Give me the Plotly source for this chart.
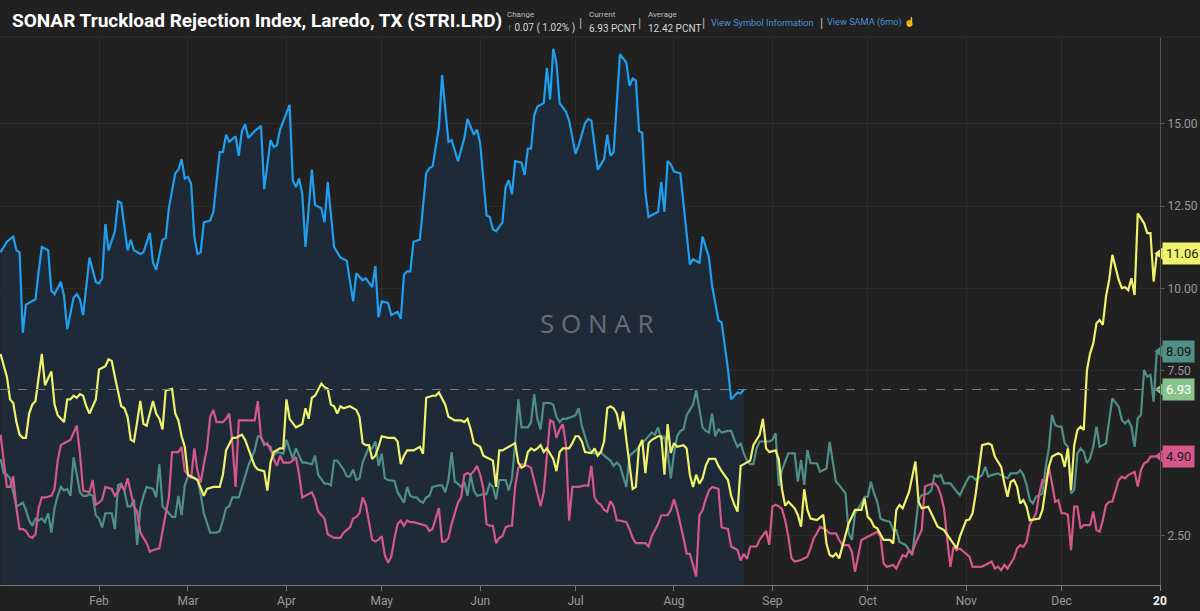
import pandas as pd
import plotly.graph_objects as go

# ---- datos (dia del año desde 1 ene, valor %) ----
blue_days = [0, 2, 4, 5, 6, 7, 8, 9, 11, 12, 13, 15, 16, 17, 19, 20, 21, 22, 23, 24, 25, 26, 28, 30, 31, 32, 33, 34,
             36, 37, 38, 40, 41, 42, 44, 45, 47, 48, 49, 51, 52, 53, 55, 56, 57, 58, 59, 60, 61, 62, 63, 64, 66, 67,
             69, 70, 71, 72, 74, 75, 76, 77, 78, 80, 82, 83, 85, 86, 87, 88, 91, 92, 93, 94, 95, 96, 98, 99, 101,
             102, 103, 105, 107, 109, 111, 112, 114, 115, 117, 118, 119, 120, 122, 123, 125, 126, 127, 128, 129,
             130, 132, 134, 135, 136, 138, 139, 141, 142, 144, 146, 147, 149, 150, 151, 153, 154, 155, 156, 158,
             159, 160, 161, 162, 164, 165, 166, 167, 168, 169, 171, 172, 173, 174, 175, 176, 178, 179, 181, 182,
             184, 185, 186, 187, 188, 190, 191, 192, 193, 194, 195, 197, 198, 199, 200, 201, 202, 203, 204, 207,
             208, 209, 210, 211, 212, 214, 215, 217, 218, 220, 221, 223, 224, 226, 227, 229, 230, 232, 233, 234]
blue_vals = [11.10, 11.42, 11.58, 11.16, 11.10, 8.65, 9.51, 9.56, 9.67, 10.52, 11.26, 11.16, 9.93, 9.83, 10.20,
             9.77, 8.76, 9.24, 9.72, 9.83, 9.67, 9.19, 10.94, 10.20, 10.15, 10.31, 11.96, 11.16, 11.74, 12.65,
             12.60, 11.16, 11.48, 11.16, 11.05, 11.10, 11.69, 10.78, 10.57, 11.48, 11.53, 12.44, 13.50, 13.61,
             13.93, 13.34, 13.39, 13.18, 11.58, 11.05, 11.10, 12.01, 12.06, 12.33, 14.14, 14.14, 14.67, 14.46,
             14.62, 14.03, 14.78, 14.99, 14.57, 14.78, 14.94, 13.02, 14.51, 14.30, 14.35, 14.83, 15.58, 13.29,
             13.08, 13.34, 12.86, 11.26, 13.61, 12.54, 12.44, 12.01, 13.24, 11.26, 10.94, 10.84, 9.61, 10.46,
             10.25, 10.31, 10.04, 10.68, 9.13, 9.61, 9.56, 9.19, 9.29, 9.08, 10.41, 10.52, 10.52, 11.42, 11.48,
             13.50, 13.66, 13.71, 14.89, 16.48, 14.46, 14.51, 13.87, 14.57, 15.15, 14.67, 14.83, 14.41, 12.22,
             12.17, 11.80, 11.74, 12.01, 13.08, 13.29, 12.86, 13.87, 13.82, 13.45, 14.25, 14.25, 15.26, 15.53,
             15.63, 16.70, 15.74, 17.28, 16.86, 15.63, 15.37, 15.10, 14.09, 14.35, 15.02, 15.15, 15.10, 14.35,
             13.61, 13.93, 14.67, 14.03, 14.14, 15.63, 17.12, 16.86, 16.16, 16.38, 16.32, 14.78, 14.73, 12.92,
             12.17, 12.33, 13.24, 12.33, 13.87, 13.77, 13.55, 13.50, 12.54, 10.73, 10.89, 10.78, 11.58, 10.94,
             10.09, 9.03, 8.97, 7.54, 6.63, 6.84, 6.81, 6.93]

yellow_days = [0, 2, 3, 4, 5, 6, 7, 8, 9, 10, 11, 13, 14, 15, 16, 17, 18, 20, 21, 22, 23, 24, 25, 26, 27, 28, 29,
               30, 31, 32, 33, 34, 35, 36, 38, 39, 40, 41, 42, 43, 44, 45, 46, 48, 49, 50, 51, 52, 54, 55, 56, 57,
               58, 59, 60, 62, 63, 64, 65, 67, 69, 70, 71, 73, 74, 76, 77, 78, 80, 81, 83, 84, 85, 86, 88, 89, 90,
               91, 93, 94, 95, 96, 97, 98, 99, 101, 102, 103, 104, 105, 106, 107, 108, 110, 112, 113, 114, 115,
               116, 117, 118, 119, 120, 122, 124, 125, 126, 127, 128, 130, 131, 132, 133, 134, 136, 137, 138, 140,
               141, 143, 145, 146, 147, 148, 149, 151, 152, 154, 155, 156, 157, 158, 159, 160, 162, 163, 164, 165,
               166, 167, 168, 169, 170, 171, 172, 174, 175, 176, 177, 179, 180, 181, 182, 183, 184, 186, 187, 188,
               189, 190, 191, 192, 193, 194, 195, 196, 197, 199, 200, 201, 202, 203, 204, 205, 207, 208, 209, 210,
               211, 212, 213, 215, 216, 217, 218, 219, 220, 221, 222, 223, 225, 226, 227, 229, 230, 231, 232, 233,
               234, 236, 237, 239, 240, 241, 242, 244, 245, 246, 247, 248, 250, 251, 252, 253, 254, 255, 257, 259,
               260, 261, 262, 263, 264, 265, 266, 267, 269, 271, 272, 273, 274, 275, 276, 278, 280, 281, 282, 283,
               284, 286, 288, 289, 290, 292, 293, 294, 295, 297, 298, 301, 302, 304, 305, 306, 307, 308, 309, 311,
               312, 313, 315, 316, 317, 318, 319, 320, 321, 322, 323, 324, 325, 327, 328, 329, 330, 331, 333, 334,
               335, 336, 337, 338, 339, 340, 341, 342, 343, 344, 345, 346, 347, 348, 349, 350, 351, 352, 353, 354,
               355, 356, 357, 358, 360, 361, 362, 363, 364]
yellow_vals = [8.01, 7.32, 6.63, 6.52, 5.94, 5.56, 5.46, 5.46, 6.20, 6.47, 6.58, 8.01, 7.06, 7.27, 7.48, 6.47, 6.15,
               5.94, 6.63, 6.63, 6.74, 6.68, 6.79, 6.74, 6.42, 6.20, 6.42, 6.63, 7.54, 7.59, 7.64, 7.85, 7.80, 7.32,
               6.42, 6.36, 6.10, 5.40, 5.35, 5.94, 6.58, 5.88, 5.83, 6.58, 6.20, 6.04, 5.72, 6.90, 6.95, 6.20, 5.99,
               5.51, 5.19, 4.34, 4.29, 4.18, 3.94, 3.70, 3.91, 3.97, 3.97, 4.34, 5.08, 5.46, 5.46, 5.56, 5.40, 5.14,
               4.61, 4.50, 4.45, 3.86, 4.71, 5.03, 5.14, 5.14, 6.63, 6.04, 5.78, 5.83, 5.88, 6.36, 6.04, 6.68, 6.74,
               7.11, 7.00, 6.95, 6.47, 6.42, 6.20, 6.42, 6.36, 6.42, 6.31, 6.10, 5.30, 5.24, 5.24, 4.82, 4.92, 5.19,
               5.51, 5.46, 5.46, 5.35, 4.66, 4.92, 5.08, 5.08, 5.14, 5.19, 4.98, 6.68, 6.74, 6.74, 6.84, 6.47, 6.10,
               5.99, 5.99, 5.94, 6.04, 5.72, 5.30, 5.19, 4.92, 4.82, 4.77, 3.97, 5.08, 5.08, 5.14, 5.19, 5.30, 4.71,
               4.55, 4.61, 5.03, 5.14, 5.08, 5.14, 5.24, 5.03, 5.14, 4.82, 4.45, 5.03, 5.14, 5.14, 5.30, 5.51, 5.51,
               5.35, 5.03, 5.00, 5.14, 4.92, 5.03, 5.35, 6.36, 6.42, 6.36, 6.20, 5.72, 6.26, 5.40, 3.91, 3.97, 5.19,
               5.40, 4.39, 5.30, 5.40, 5.51, 5.51, 4.34, 5.88, 5.00, 5.30, 5.19, 5.24, 5.14, 4.34, 3.97, 4.34, 4.07,
               4.23, 4.61, 4.82, 4.82, 4.61, 4.45, 4.18, 3.70, 3.43, 3.22, 4.61, 4.66, 4.77, 5.24, 5.56, 6.04, 5.14,
               5.03, 5.08, 4.80, 3.90, 3.40, 3.52, 3.32, 3.12, 2.76, 3.90, 3.27, 3.01, 2.96, 3.12, 2.25, 1.90, 1.85,
               1.95, 1.80, 2.15, 2.56, 2.86, 3.27, 3.27, 3.62, 3.06, 2.96, 2.76, 2.71, 2.36, 2.36, 2.25, 3.27, 3.42,
               3.32, 3.82, 4.74, 3.52, 3.32, 3.37, 3.17, 2.96, 2.76, 2.66, 2.51, 2.10, 2.46, 2.96, 2.98, 3.17, 3.77,
               4.50, 5.24, 5.29, 5.24, 4.89, 4.58, 4.08, 3.67, 4.13, 4.18, 3.98, 3.47, 3.57, 3.37, 2.96, 2.98, 3.01,
               3.27, 3.88, 4.58, 4.89, 4.99, 4.94, 4.58, 5.14, 3.88, 5.24, 5.70, 5.80, 5.70, 7.52, 8.03, 8.33, 8.94,
               9.04, 8.89, 9.75, 10.26, 11.02, 10.61, 10.26, 10.01, 10.04, 9.95, 10.31, 9.80, 12.28, 11.98, 11.68,
               11.68, 10.21, 11.06]

teal_days = [0, 1, 2, 3, 4, 5, 6, 7, 8, 9, 10, 11, 12, 13, 14, 15, 16, 17, 18, 19, 20, 21, 22, 23, 24, 25, 26, 27,
             28, 29, 30, 31, 32, 33, 35, 36, 37, 38, 39, 40, 41, 42, 43, 44, 45, 46, 48, 49, 50, 51, 53, 54, 55, 56,
             57, 58, 59, 60, 62, 63, 64, 65, 66, 68, 69, 70, 71, 72, 73, 75, 76, 77, 78, 80, 81, 82, 83, 84, 85, 86,
             87, 89, 90, 92, 93, 94, 95, 96, 98, 99, 100, 102, 103, 104, 105, 106, 108, 109, 110, 111, 112, 113,
             114, 116, 117, 118, 119, 120, 121, 122, 124, 125, 127, 128, 129, 130, 131, 132, 133, 134, 135, 136,
             138, 139, 140, 141, 142, 143, 144, 145, 146, 147, 148, 149, 150, 152, 153, 154, 155, 156, 157, 159,
             160, 161, 162, 163, 164, 166, 167, 168, 169, 170, 171, 173, 174, 175, 176, 177, 178, 180, 181, 182,
             183, 184, 185, 186, 187, 189, 190, 192, 193, 194, 195, 197, 198, 200, 201, 202, 203, 204, 205, 206,
             207, 208, 209, 210, 211, 212, 213, 214, 215, 216, 218, 219, 220, 221, 222, 223, 224, 225, 226, 227,
             229, 230, 231, 232, 233, 234, 235, 236, 237, 238, 239, 240, 242, 243, 244, 245, 246, 248, 250, 251,
             252, 253, 254, 255, 257, 258, 260, 261, 262, 263, 264, 266, 267, 268, 269, 271, 272, 273, 274, 275,
             276, 277, 278, 280, 281, 282, 283, 284, 285, 287, 288, 289, 290, 292, 293, 294, 295, 296, 297, 298,
             299, 301, 302, 304, 305, 306, 307, 309, 310, 311, 312, 314, 316, 317, 318, 320, 321, 322, 323, 324,
             325, 326, 327, 328, 329, 330, 331, 332, 333, 334, 335, 336, 337, 338, 339, 340, 341, 342, 343, 344,
             345, 346, 347, 348, 349, 350, 352, 353, 354, 355, 356, 357, 358, 359, 360, 361, 362, 363, 364]
teal_vals = [4.82, 4.39, 4.34, 4.23, 3.81, 3.38, 3.43, 3.49, 3.27, 2.95, 2.79, 3.01, 2.95, 3.01, 2.90, 3.17, 2.58,
             3.33, 3.70, 3.97, 3.86, 3.91, 3.70, 4.87, 4.34, 3.81, 3.70, 3.70, 3.75, 3.70, 3.11, 3.01, 2.74, 3.17,
             3.17, 2.69, 4.02, 4.07, 3.86, 3.38, 3.38, 3.59, 2.21, 3.33, 3.70, 3.97, 3.91, 3.65, 4.66, 3.38, 3.17,
             3.06, 3.06, 3.70, 3.11, 4.02, 4.29, 4.29, 4.20, 3.75, 3.17, 2.90, 2.58, 2.58, 2.63, 2.95, 3.33, 3.38,
             3.65, 3.65, 3.97, 4.29, 4.61, 5.08, 5.51, 5.51, 5.24, 5.30, 5.08, 4.92, 5.03, 4.98, 5.40, 4.82, 5.14,
             4.92, 4.71, 4.71, 4.66, 4.92, 4.34, 4.07, 4.07, 4.02, 4.77, 4.77, 4.50, 4.29, 4.29, 4.50, 4.18, 4.23,
             4.71, 5.19, 5.14, 5.35, 4.61, 4.98, 4.23, 4.18, 4.15, 3.81, 3.49, 3.97, 3.70, 3.65, 3.65, 3.54, 3.49,
             3.65, 3.70, 3.97, 4.02, 4.02, 3.81, 4.18, 5.03, 4.13, 4.07, 3.97, 4.13, 3.70, 4.34, 3.86, 3.70, 3.75,
             3.75, 4.07, 3.97, 3.59, 4.18, 4.18, 3.86, 4.23, 5.30, 6.63, 5.78, 5.78, 5.94, 6.79, 6.04, 5.72, 6.52,
             6.52, 6.47, 6.10, 5.94, 6.04, 6.04, 6.10, 6.15, 6.36, 5.83, 5.50, 5.19, 5.03, 4.98, 5.03, 4.92, 4.77,
             4.61, 4.71, 4.61, 3.97, 4.92, 5.08, 5.19, 5.30, 5.40, 5.51, 5.62, 5.56, 5.78, 5.40, 5.51, 5.03, 4.23,
             4.98, 5.51, 5.67, 5.72, 6.15, 6.47, 6.90, 6.36, 5.78, 5.67, 5.62, 6.20, 5.51, 5.72, 5.62, 5.67, 5.67,
             5.40, 5.19, 5.30, 4.98, 4.77, 4.66, 4.66, 5.14, 5.35, 5.35, 5.35, 5.40, 5.60, 4.00, 4.48, 4.99, 4.99,
             4.13, 4.79, 4.03, 5.09, 4.69, 4.69, 4.43, 4.53, 5.34, 4.79, 4.13, 4.03, 3.77, 2.56, 2.36, 3.17, 3.47,
             3.67, 3.67, 4.13, 3.77, 3.52, 3.01, 2.96, 2.91, 2.66, 2.66, 2.30, 2.25, 2.20, 1.90, 2.66, 3.57, 3.72,
             3.77, 3.87, 4.33, 4.28, 4.33, 4.08, 4.08, 4.08, 3.83, 3.72, 4.13, 4.28, 4.28, 4.18, 4.33, 4.58, 4.28,
             4.33, 4.38, 4.28, 4.23, 4.38, 4.38, 4.48, 4.33, 4.03, 3.57, 3.47, 3.67, 3.72, 3.77, 4.58, 5.14, 6.16,
             5.85, 5.80, 5.80, 5.30, 5.19, 3.77, 3.88, 4.99, 5.14, 5.04, 4.69, 4.84, 5.19, 5.80, 5.19, 5.24, 5.29,
             6.00, 6.66, 6.41, 6.00, 5.90, 6.00, 5.80, 5.19, 6.05, 6.16, 7.52, 7.32, 7.37, 6.56, 8.09]

pink_days = [0, 1, 2, 3, 4, 5, 6, 7, 8, 9, 10, 11, 12, 13, 14, 16, 17, 18, 19, 20, 22, 24, 25, 26, 28, 29, 30, 31,
             32, 33, 35, 36, 37, 38, 39, 40, 41, 42, 43, 44, 46, 47, 48, 50, 51, 52, 53, 54, 56, 57, 58, 60, 61, 62,
             63, 64, 65, 66, 67, 68, 70, 71, 72, 73, 74, 75, 77, 78, 80, 81, 82, 83, 85, 86, 87, 88, 89, 91, 92, 93,
             94, 95, 97, 98, 99, 100, 102, 103, 105, 107, 108, 110, 111, 112, 113, 114, 115, 116, 117, 118, 119,
             120, 121, 122, 123, 124, 125, 126, 127, 128, 129, 130, 132, 134, 135, 136, 137, 138, 139, 140, 141,
             142, 144, 145, 146, 147, 148, 149, 150, 151, 152, 153, 154, 155, 156, 157, 158, 159, 160, 161, 162,
             163, 164, 166, 167, 168, 170, 171, 172, 173, 174, 175, 176, 177, 178, 179, 180, 182, 184, 185, 186,
             187, 188, 189, 190, 191, 192, 193, 194, 195, 197, 198, 199, 200, 201, 203, 204, 205, 207, 208, 210,
             211, 212, 213, 215, 216, 217, 219, 220, 221, 222, 223, 224, 226, 227, 229, 230, 232, 233, 234, 235,
             236, 238, 239, 241, 242, 243, 244, 245, 246, 247, 248, 249, 250, 252, 254, 255, 256, 257, 258, 259,
             260, 261, 263, 264, 265, 266, 267, 268, 269, 271, 272, 273, 275, 276, 277, 278, 279, 281, 282, 283,
             284, 285, 286, 287, 288, 289, 290, 291, 292, 294, 295, 296, 297, 298, 299, 300, 301, 302, 304, 305,
             306, 308, 309, 310, 312, 313, 314, 315, 316, 317, 318, 319, 320, 321, 322, 323, 324, 326, 327, 328,
             329, 330, 331, 332, 333, 334, 335, 336, 337, 338, 339, 340, 341, 342, 343, 344, 345, 346, 347, 348,
             349, 350, 351, 352, 353, 354, 355, 356, 357, 358, 359, 360, 361, 362, 363, 364]
pink_vals = [5.56, 4.77, 3.97, 3.97, 4.29, 3.33, 2.69, 2.69, 2.63, 2.47, 2.42, 2.53, 3.33, 3.65, 3.65, 3.70, 3.91,
             4.77, 5.24, 5.30, 5.40, 5.83, 4.98, 3.86, 3.81, 4.18, 3.43, 3.49, 3.59, 3.97, 3.91, 3.70, 3.81, 4.02,
             3.86, 4.23, 3.81, 3.38, 3.22, 2.58, 2.26, 2.00, 2.05, 2.10, 2.63, 3.17, 3.65, 5.03, 5.03, 5.19, 4.45,
             4.23, 5.14, 4.45, 4.10, 4.66, 5.14, 6.10, 6.31, 5.94, 5.94, 6.04, 6.20, 5.30, 3.97, 5.99, 5.99, 5.99,
             5.99, 6.58, 5.46, 5.30, 5.19, 4.82, 4.61, 4.92, 4.71, 4.71, 4.77, 4.87, 4.34, 3.65, 3.75, 3.81, 3.59,
             3.22, 3.01, 2.53, 2.42, 2.42, 2.58, 2.74, 3.01, 3.06, 3.17, 3.65, 3.43, 2.84, 2.37, 2.31, 2.37, 2.47,
             1.89, 1.67, 1.85, 2.40, 2.84, 2.95, 2.79, 2.95, 2.90, 2.90, 2.84, 2.79, 2.63, 2.69, 3.01, 3.33, 2.31,
             2.31, 2.42, 2.84, 3.49, 3.65, 4.34, 4.39, 4.34, 4.45, 4.61, 4.34, 3.91, 2.84, 2.79, 2.79, 2.26, 2.42,
             2.47, 2.74, 2.79, 2.79, 3.97, 4.55, 4.66, 4.61, 4.55, 4.13, 3.38, 3.81, 5.03, 5.99, 5.94, 5.46, 5.72,
             5.88, 5.24, 2.95, 3.97, 3.97, 4.02, 4.00, 4.61, 3.65, 3.49, 3.43, 3.27, 3.22, 3.54, 3.38, 2.95, 2.95,
             2.90, 2.69, 2.42, 2.26, 2.26, 2.26, 2.16, 2.47, 2.84, 3.11, 3.11, 3.27, 3.59, 3.27, 2.42, 1.94, 1.94,
             1.25, 3.11, 3.27, 3.59, 3.86, 3.97, 3.91, 2.74, 2.69, 2.16, 2.05, 1.73, 1.94, 1.78, 2.16, 2.16, 2.37,
             2.63, 2.21, 3.38, 3.43, 3.38, 3.30, 2.96, 2.46, 1.80, 1.70, 1.75, 1.85, 2.10, 2.41, 2.56, 2.76, 2.71,
             2.66, 2.56, 2.56, 2.36, 2.20, 2.20, 2.20, 2.00, 1.39, 2.36, 2.41, 2.46, 2.56, 2.61, 2.46, 1.65, 1.54,
             1.60, 1.49, 1.70, 1.90, 1.85, 2.05, 1.95, 2.25, 2.46, 2.66, 3.98, 4.03, 4.08, 3.98, 3.72, 3.32, 2.41,
             1.54, 2.15, 2.05, 2.10, 1.95, 1.85, 1.54, 1.54, 1.55, 1.60, 1.70, 1.49, 1.55, 1.44, 1.60, 1.49, 1.65,
             1.80, 2.10, 2.20, 2.15, 2.30, 2.81, 3.17, 3.77, 4.18, 4.13, 4.58, 4.08, 3.52, 3.57, 3.17, 3.17, 3.12,
             2.05, 3.37, 3.37, 2.71, 2.81, 2.81, 2.81, 3.22, 2.66, 2.61, 2.96, 3.42, 3.52, 3.52, 3.82, 4.18, 4.28,
             4.23, 4.33, 4.38, 4.43, 3.98, 4.48, 4.69, 4.74, 4.89, 4.89, 4.90]

month_ticks = ["2019-02-01", "2019-03-01", "2019-04-01", "2019-05-01", "2019-06-01", "2019-07-01",
               "2019-08-01", "2019-09-01", "2019-10-01", "2019-11-01", "2019-12-01", "2020-01-01"]
month_labels = ["Feb", "Mar", "Apr", "May", "Jun", "Jul", "Aug", "Sep", "Oct", "Nov", "Dec",
                "<span style='color:#f2f2f2'><b>20</b></span>"]
y_ticks = [2.5, 5.0, 7.5, 10.0, 12.5, 15.0]
# la etiqueta 5.00 queda tapada por la etiqueta 4.90 en el original
y_labels = ["2.50", "", "7.50", "10.00", "12.50", "15.00"]

current_value = 6.93

BG = "#212121"
BLUE = "#1f9ff0"
YELLOW = "#eef26c"
TEAL = "#4f8f85"
PINK = "#d6578a"

PLOT_H = 547  # alto del area del grafico en px (para ubicar el encabezado)


def to_dates(days):
    return pd.Timestamp("2019-01-01") + pd.to_timedelta(days, unit="D")


def head(px_from_top):
    # convierte px desde arriba de la figura a coordenadas paper
    return 1 + (38 - px_from_top) / PLOT_H


x_start = pd.Timestamp("2018-12-31 20:00")
x_end = pd.Timestamp("2020-01-01")

fig = go.Figure()

# area azul (año actual)
fig.add_trace(go.Scatter(x=to_dates(blue_days), y=blue_vals, mode="lines", line=dict(width=0),
                         fill="tozeroy", fillcolor="#1f2a38", hoverinfo="skip", showlegend=False))

for days, vals, color in [(teal_days, teal_vals, TEAL), (pink_days, pink_vals, PINK),
                          (yellow_days, yellow_vals, YELLOW)]:
    fig.add_trace(go.Scatter(x=to_dates(days), y=vals, mode="lines",
                             line=dict(color=color, width=2.2), showlegend=False))

fig.add_trace(go.Scatter(x=to_dates(blue_days), y=blue_vals, mode="lines",
                         line=dict(color=BLUE, width=2.2), showlegend=False))

# linea punteada del valor actual
fig.add_hline(y=current_value, line=dict(color="#7a7a7a", width=1, dash="dash"))

# etiquetas de ultimo valor a la derecha
tags = [(yellow_vals[-1], YELLOW, "#1a1a1a"), (teal_vals[-1], TEAL, "#111111"),
        (current_value, "#86c489", "#ffffff"), (pink_vals[-1], PINK, "#1a1a1a")]
fig.add_trace(go.Scatter(x=[x_end] * len(tags), y=[t[0] for t in tags], mode="markers",
                         marker=dict(symbol="triangle-left", size=11, color=[t[1] for t in tags]),
                         cliponaxis=False, hoverinfo="skip", showlegend=False))
for val, bg, fg in tags:
    fig.add_annotation(x=1, xref="paper", y=val, yref="y", xanchor="left", yanchor="middle",
                       text=f"{val:.2f}", showarrow=False, xshift=2, bgcolor=bg, borderpad=3,
                       font=dict(family="Roboto", size=13, color=fg))

# marca de agua
fig.add_annotation(x=0.515, y=0.479, xref="paper", yref="paper", text="S O N A R", showarrow=False,
                   font=dict(family="Open Sans", size=26, color="#646d78"))

# encabezado
fig.add_annotation(x=10 / 1160, y=head(21), xref="paper", yref="paper", xanchor="left", yanchor="middle",
                   text="<b>SONAR Truckload Rejection Index, Laredo, TX (STRI.LRD)</b>", showarrow=False,
                   font=dict(family="Roboto", size=19, color="#ffffff"))
small = dict(family="Roboto", size=8, color="#bdbdbd")
vals_font = dict(family="Roboto", size=10, color="#d6d6d6")
for xp, label, value in [(505, "Change", "<span style='color:#3cc36a'>↑</span> 0.07 ( 1.02% )"),
                         (587, "Current", "6.93 PCNT"), (646, "Average", "12.42 PCNT")]:
    fig.add_annotation(x=xp / 1160, y=head(14), xref="paper", yref="paper", xanchor="left", yanchor="middle",
                       text=label, showarrow=False, font=small)
    fig.add_annotation(x=xp / 1160, y=head(28), xref="paper", yref="paper", xanchor="left", yanchor="middle",
                       text=value, showarrow=False, font=vals_font)
for xp in [580, 639, 703, 821]:
    fig.add_annotation(x=xp / 1160, y=head(22), xref="paper", yref="paper", xanchor="center", yanchor="middle",
                       text="|", showarrow=False, font=dict(family="Roboto", size=13, color="#bdbdbd"))
fig.add_annotation(x=709 / 1160, y=head(22), xref="paper", yref="paper", xanchor="left", yanchor="middle",
                   text="View Symbol Information", showarrow=False,
                   font=dict(family="Roboto", size=9.2, color="#4c8fd6"))
fig.add_annotation(x=825 / 1160, y=head(22), xref="paper", yref="paper", xanchor="left", yanchor="middle",
                   text="View SAMA (6mo) <span style='color:#e8d000'>☝</span>", showarrow=False,
                   font=dict(family="Roboto", size=9.2, color="#4c8fd6"))
fig.add_shape(type="line", xref="paper", yref="paper", x0=0, x1=1200 / 1160, y0=head(37), y1=head(37),
              line=dict(color="#333333", width=1))

fig.update_layout(
    width=1200, height=611,
    margin=dict(l=0, r=40, t=38, b=26),
    paper_bgcolor=BG, plot_bgcolor=BG,
    font=dict(family="Roboto", color="#9a9a9a"),
    xaxis=dict(range=[x_start, x_end], tickmode="array", tickvals=month_ticks, ticktext=month_labels,
               showgrid=True, gridcolor="#2c2c2c", gridwidth=1, ticks="outside", ticklen=5,
               tickcolor="#777777", showline=True, linecolor="#777777", zeroline=False,
               tickfont=dict(family="Liberation Sans Narrow, Roboto", size=12, color="#9a9a9a")),
    yaxis=dict(range=[0.99, 17.61], side="right", tickmode="array", tickvals=y_ticks, ticktext=y_labels,
               showgrid=True, gridcolor="#2c2c2c", zeroline=False,
               showline=True, linecolor="#555555", ticks="outside", ticklen=4, tickcolor="#555555",
               tickfont=dict(family="Roboto", size=12, color="#9a9a9a")),
)

fig.write_html("out.html", config={"displayModeBar": False},
               post_script="document.body.style.margin='0';"
                           "document.body.style.background='#212121';")
